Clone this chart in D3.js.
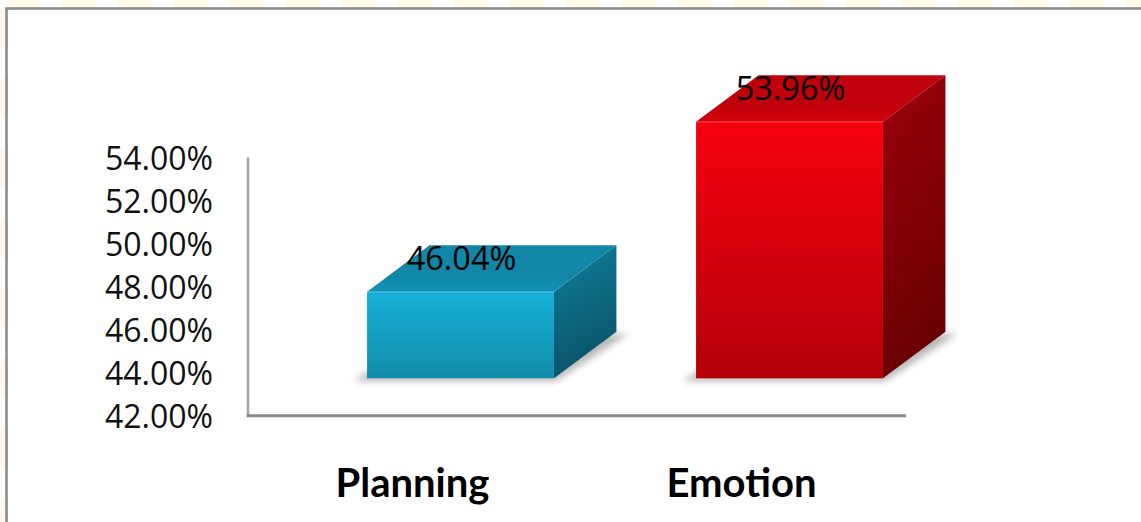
<!DOCTYPE html>
<html>
<head>
<meta charset="utf-8">
<script src="https://cdn.jsdelivr.net/npm/d3@7"></script>
<style>
  html, body { margin: 0; padding: 0; background: #ffffff; }
  svg { display: block; }
</style>
</head>
<body>
<svg id="chart" width="1141" height="522"></svg>
<script>
// Chart data
const categories = ["Planning", "Emotion"];
const values = [46.04, 53.96];          // percent
const tickValues = [42, 44, 46, 48, 50, 52, 54];
const yDomain = [42, 54];

// Face colours per bar: [front top, front bottom, top face, side top, side bottom]
const palettes = [
  ["#16b0d7", "#128daa", "#1186a6", "#107f9c", "#0a5369"],
  ["#f6000f", "#b30007", "#c0000a", "#9d000a", "#690004"]
];

const W = 1141, H = 522;
const svg = d3.select("#chart");
const defs = svg.append("defs");

// Plot geometry
const floorY = 415.8;                 // y of the category axis (value 42 on the back wall)
const axisLeft = 248, axisRight = 906;
const depth = { dx: 62.5, dy: -46.5 }; // full box depth
const inset = { dx: 48, dy: -37.5 };   // how far the front faces sit behind the axis plane

// Scales
const x = d3.scaleBand().domain(categories).range([axisLeft, axisRight]).padding(0);
const barW = x.bandwidth() * 0.568;
const yAxisScale = d3.scaleLinear().domain(yDomain).range([floorY, floorY - 257.4]);
const yFront = v => yAxisScale(v) + inset.dy;

// Pale backdrop bleeding in along the top and left edges
const bg = defs.append("pattern").attr("id", "bgStripe")
  .attr("patternUnits", "userSpaceOnUse").attr("width", 56).attr("height", 56);
bg.append("rect").attr("x", 6).attr("y", 0).attr("width", 34).attr("height", 56).attr("fill", "#fffbe6");
const bgL = defs.append("pattern").attr("id", "bgStripeL")
  .attr("patternUnits", "userSpaceOnUse").attr("width", 8).attr("height", 70);
bgL.append("rect").attr("x", 0).attr("y", 8).attr("width", 8).attr("height", 40).attr("fill", "#fff9f0");
svg.append("rect").attr("x", 0).attr("y", 0).attr("width", W).attr("height", 8).attr("fill", "url(#bgStripe)");
svg.append("rect").attr("x", 0).attr("y", 8).attr("width", 5).attr("height", H).attr("fill", "url(#bgStripeL)");

// Chart area frame (extends past the right and bottom edges)
svg.append("rect")
  .attr("x", 6.5).attr("y", 8.5)
  .attr("width", W + 20).attr("height", H + 20)
  .attr("fill", "#ffffff")
  .attr("stroke", "#8c8c8c").attr("stroke-width", 2.6);

// Gradients per bar
palettes.forEach((p, i) => {
  const gf = defs.append("linearGradient").attr("id", "front" + i)
    .attr("x1", 0).attr("y1", 0).attr("x2", 0).attr("y2", 1);
  gf.append("stop").attr("offset", "0%").attr("stop-color", p[0]);
  gf.append("stop").attr("offset", "100%").attr("stop-color", p[1]);

  const gt = defs.append("linearGradient").attr("id", "top" + i)
    .attr("x1", 0).attr("y1", 1).attr("x2", 0).attr("y2", 0);
  gt.append("stop").attr("offset", "0%").attr("stop-color", d3.color(p[2]).brighter(0.25));
  gt.append("stop").attr("offset", "35%").attr("stop-color", p[2]);
  gt.append("stop").attr("offset", "100%").attr("stop-color", p[2]);

  const gs = defs.append("linearGradient").attr("id", "side" + i)
    .attr("x1", 0).attr("y1", 0).attr("x2", 0.25).attr("y2", 1);
  gs.append("stop").attr("offset", "0%").attr("stop-color", p[3]);
  gs.append("stop").attr("offset", "100%").attr("stop-color", p[4]);
});

const blur = defs.append("filter").attr("id", "shadowBlur")
  .attr("x", "-20%").attr("y", "-50%").attr("width", "140%").attr("height", "200%");
blur.append("feGaussianBlur").attr("stdDeviation", 3.5);

// Value axis labels (no tick marks), placed on the back wall
const yAxis = d3.axisLeft(yAxisScale)
  .tickValues(tickValues)
  .tickSize(0)
  .tickPadding(0)
  .tickFormat(d => d3.format(".2f")(d) + "%");
const gy = svg.append("g").attr("transform", `translate(213,0)`).call(yAxis);
gy.select(".domain").remove();
gy.selectAll("text")
  .attr("font-family", "'Open Sans', sans-serif")
  .attr("font-size", 32)
  .attr("fill", "#111111")
  .attr("dy", "0.35em");

// Axis lines
svg.append("line")
  .attr("x1", axisLeft).attr("x2", axisLeft)
  .attr("y1", yAxisScale(54) - 1).attr("y2", floorY)
  .attr("stroke", "#a6a6a6").attr("stroke-width", 2.6);
svg.append("line")
  .attr("x1", axisLeft - 1.3).attr("x2", axisRight)
  .attr("y1", floorY).attr("y2", floorY)
  .attr("stroke", "#8a8a8a").attr("stroke-width", 3);

// Bars as boxes
const bars = categories.map((c, i) => {
  const x0 = x(c) + (x.bandwidth() - barW) / 2 + inset.dx;
  return { c, v: values[i], i, x0, x1: x0 + barW, yTop: yFront(values[i]), yBot: yFront(yDomain[0]) };
});

const pts = a => a.map(p => p.join(",")).join(" ");

const g = svg.append("g");
bars.forEach(b => {
  const { x0, x1, yTop, yBot, i } = b;
  const dx = depth.dx, dy = depth.dy;
  // soft floor shadow under the box footprint
  g.append("polygon")
    .attr("points", pts([[x0 - 14, yBot + 3], [x1 + 2, yBot + 3], [x1 + dx + 12, yBot + dy + 2], [x0 + dx, yBot + dy + 2]]))
    .attr("fill", "#000").attr("opacity", 0.28)
    .attr("filter", "url(#shadowBlur)");
  // right side
  g.append("polygon")
    .attr("points", pts([[x1, yTop], [x1 + dx, yTop + dy], [x1 + dx, yBot + dy], [x1, yBot]]))
    .attr("fill", `url(#side${i})`);
  // top
  g.append("polygon")
    .attr("points", pts([[x0, yTop], [x1, yTop], [x1 + dx, yTop + dy], [x0 + dx, yTop + dy]]))
    .attr("fill", `url(#top${i})`);
  // front
  g.append("rect")
    .attr("x", x0).attr("y", yTop)
    .attr("width", barW).attr("height", yBot - yTop)
    .attr("fill", `url(#front${i})`);
  // faint highlight on the front top edge
  g.append("line")
    .attr("x1", x0).attr("x2", x1).attr("y1", yTop + 0.5).attr("y2", yTop + 0.5)
    .attr("stroke", "#ffffff").attr("stroke-opacity", 0.15).attr("stroke-width", 1);
});

// Value labels
svg.append("g").selectAll("text")
  .data(bars).join("text")
  .attr("x", d => (d.x0 + d.x1) / 2 + 1)
  .attr("y", d => d.yTop - 22)
  .attr("text-anchor", "middle")
  .attr("font-family", "'Open Sans', sans-serif")
  .attr("font-size", 32.5)
  .attr("fill", "#000000")
  .text(d => d3.format(".2f")(d.v) + "%");

// Category labels
const xAxis = d3.axisBottom(x).tickSize(0).tickPadding(0);
const gx = svg.append("g").attr("transform", `translate(0,${floorY + 81})`).call(xAxis);
gx.select(".domain").remove();
gx.selectAll("text")
  .attr("font-family", "Lato, 'Open Sans', sans-serif")
  .attr("font-weight", "bold")
  .attr("font-size", 40)
  .attr("fill", "#000000")
  .attr("dy", 0);
</script>
</body>
</html>
